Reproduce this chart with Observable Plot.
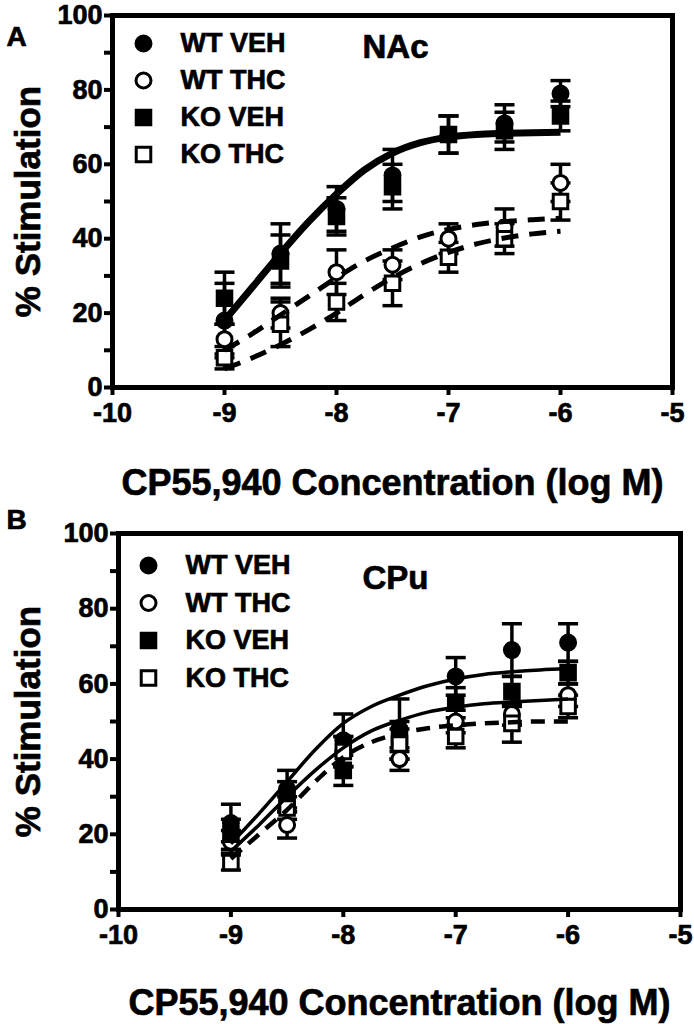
<!DOCTYPE html>
<html><head><meta charset="utf-8">
<script src="https://cdn.jsdelivr.net/npm/d3@7"></script>
<script src="https://cdn.jsdelivr.net/npm/@observablehq/plot@0.6"></script>
<style>
body{margin:0;background:#fff;}
#chart{width:694px;}
#chart svg{display:block;}
#chart svg text{stroke:black;stroke-width:0.7px;font-weight:bold;}
</style></head><body><div id="chart"></div>
<script>
// ---------- data ----------
const conc = [-9, -8.5, -8, -7.5, -7, -6.5, -6];
const fitConc = [-9, -8.75, -8.5, -8.25, -8, -7.75, -7.5, -7.25, -7, -6.75, -6.5, -6.25, -6];
const groups = ["WT VEH", "WT THC", "KO VEH", "KO THC"];
const xTicks = [-10, -9, -8, -7, -6, -5];
const yTicks = [0, 20, 40, 60, 80, 100];
const yMinorTicks = [10, 30, 50, 70, 90];
const xLabel = "CP55,940 Concentration (log M)";
const yLabel = "% Stimulation";

// Panel A (NAc)
const nacWtVeh = [18, 36, 48, 57, 68, 71, 79];
const nacWtVehSem = [10, 8, 6, 7, 5, 5, 3.5];
const nacWtThc = [13, 20, 31, 33, 40, 43, 55];
const nacWtThcSem = [4, 4, 6, 4, 4, 5, 5];
const nacKoVeh = [24, 34, 46, 54, 68, 69, 73];
const nacKoVehSem = [7, 7, 5, 6, 5, 5, 4];
const nacKoThc = [8, 17, 23, 28, 35, 40, 50];
const nacKoThcSem = [3, 6, 5, 6, 4, 4, 5];
const nacFitVeh = [18, 27, 36, 44.5, 52, 58.5, 63, 65.8, 67.3, 68, 68.3, 68.5, 68.6];
const nacFitWtThc = [10, 14.5, 19.5, 24.5, 29.5, 34, 37.5, 40.5, 42.5, 43.8, 44.6, 45.1, 45.5];
const nacFitKoThc = [5, 8, 11.5, 15.5, 20, 25, 29.5, 33.3, 36.3, 38.6, 40.2, 41.3, 42];

// Panel B (CPu)
const cpuWtVeh = [23, 32, 45, 48, 62, 69, 71];
const cpuWtVehSem = [5, 5, 7, 8, 5, 7, 5];
const cpuWtThc = [18, 22.5, 42, 40, 50, 52, 57];
const cpuWtThcSem = [3, 3.5, 4, 3, 3, 3, 3];
const cpuKoVeh = [20, 30, 37, 46, 55, 58, 63];
const cpuKoVehSem = [4, 4, 4, 4, 4, 4, 3];
const cpuKoThc = [12.5, 27, 42, 44, 46, 49.5, 54];
const cpuKoThcSem = [2, 3, 4, 4, 3, 5, 3];
const cpuFitWtVeh = [17.5, 25.5, 34, 42.5, 49.5, 54, 57, 59.5, 61.3, 62.5, 63.2, 63.7, 64];
const cpuFitMid = [15.5, 22.5, 30, 37, 43, 47.5, 50.3, 52.5, 53.8, 54.7, 55.2, 55.6, 56];
const cpuFitKoThc = [13.5, 20, 26.5, 34, 40.5, 44.5, 46.8, 48.2, 49, 49.5, 49.8, 50, 50];

// ---------- helpers ----------
const FONT = "'Liberation Sans', Arial, Helvetica, sans-serif";
const NARROW = "'Liberation Sans Narrow', 'Arial Narrow', 'Liberation Sans', Arial, sans-serif";
const symStyle = {
  "WT VEH": {symbol: "circle", fill: "black"},
  "WT THC": {symbol: "circle", fill: "white"},
  "KO VEH": {symbol: "square", fill: "black"},
  "KO THC": {symbol: "square", fill: "white"}
};
const capSymbol = {draw(ctx, size) { const w = Math.sqrt(size / Math.PI); ctx.moveTo(-w, 0); ctx.lineTo(w, 0); }};

function rowsOf(vals, sems) {
  return conc.map((x, i) => ({x, v: vals[i], lo: vals[i] - sems[i], hi: vals[i] + sems[i]}));
}
function fitRows(vals) { return fitConc.map((x, i) => ({x, v: vals[i]})); }

function panel(cfg) {
  const marks = [];
  for (const g of groups) {
    const r = cfg.series[g];
    marks.push(Plot.ruleX(r, {x: "x", y1: "lo", y2: "hi", stroke: "black", strokeWidth: 3.5}));
    marks.push(Plot.dot(r, {x: "x", y: "hi", symbol: capSymbol, r: 10, fill: "none", stroke: "black", strokeWidth: 3.5}));
    marks.push(Plot.dot(r, {x: "x", y: "lo", symbol: capSymbol, r: 10, fill: "none", stroke: "black", strokeWidth: 3.5}));
  }
  for (const g of groups) {
    const s = symStyle[g];
    marks.push(Plot.dot(cfg.series[g], {x: "x", y: "v", symbol: s.symbol, r: s.symbol === "circle" ? 7.5 : 8.2,
      fill: s.fill, stroke: "black", strokeWidth: 3}));
  }
  for (const f of cfg.fits) {
    marks.push(Plot.line(fitRows(f.vals), {x: "x", y: "v", curve: "monotone-x", stroke: "black",
      strokeWidth: f.width, strokeDasharray: f.dash || null, strokeLinecap: "butt"}));
  }
  groups.forEach((g, i) => {
    const s = symStyle[g];
    marks.push(Plot.dot([g], {frameAnchor: "top-left", dx: cfg.legDx, dy: cfg.legDy + i * cfg.legStep,
      symbol: s.symbol, r: s.symbol === "circle" ? 7.5 : 8.2, fill: s.fill, stroke: "black", strokeWidth: 3}));
    marks.push(Plot.text([g], {text: d => d, frameAnchor: "top-left", dx: cfg.legDx + 37, dy: cfg.legDy + i * cfg.legStep,
      textAnchor: "start", lineAnchor: "middle", fontSize: 27, fontWeight: "bold", fill: "black"}));
  });
  marks.push(Plot.text([cfg.region], {text: d => d, frameAnchor: "top-left", dx: cfg.regDx, dy: cfg.regDy,
    textAnchor: "start", lineAnchor: "middle", fontSize: 33, fontWeight: "bold", fill: "black"}));
  marks.push(Plot.axisY(yMinorTicks, {tickSize: 8, tickFormat: () => "", strokeWidth: 4, label: null}));
  marks.push(Plot.axisY(yTicks, {tickSize: 8, tickPadding: 2, tickFormat: d => String(d), strokeWidth: 4,
    fontSize: 27, fontFamily: NARROW, fontWeight: "bold", label: null}));
  marks.push(Plot.axisX(xTicks, {tickSize: 8, tickPadding: 7, tickFormat: d => String(d), strokeWidth: 4,
    fontSize: 27, fontFamily: NARROW, fontWeight: "bold", label: null}));
  marks.push(Plot.frame({stroke: "black", strokeWidth: 5}));
  marks.push(Plot.text([yLabel], {text: d => d, frameAnchor: "left", dx: cfg.yLabDx, rotate: -90,
    fontSize: 35, fontWeight: "bold", fill: "black", textAnchor: "middle", lineAnchor: "middle"}));
  marks.push(Plot.text([xLabel], {text: d => d, frameAnchor: "bottom", dy: cfg.xLabDy, dx: cfg.xLabDx,
    fontSize: 36, fontWeight: "bold", fill: "black", textAnchor: "middle", lineAnchor: "bottom"}));
  marks.push(Plot.text([cfg.letter], {text: d => d, frameAnchor: "top-left", dx: cfg.letDx, dy: cfg.letDy,
    fontSize: 28, fontWeight: "bold", fill: "black", textAnchor: "start", lineAnchor: "middle"}));

  return Plot.plot({
    width: 694, height: cfg.height,
    marginLeft: cfg.ml, marginRight: cfg.mr, marginTop: cfg.mt, marginBottom: cfg.mb,
    x: {domain: [-10, -5]},
    y: {domain: [0, 100]},
    style: {fontFamily: FONT, fontSize: "25px", fontWeight: "bold", color: "black", background: "white", overflow: "visible"},
    marks
  });
}

const chart = document.getElementById("chart");
chart.append(panel({
  letter: "A", region: "NAc", height: 505, ml: 112, mr: 22, mt: 15, mb: 118,
  series: {
    "WT VEH": rowsOf(nacWtVeh, nacWtVehSem), "WT THC": rowsOf(nacWtThc, nacWtThcSem),
    "KO VEH": rowsOf(nacKoVeh, nacKoVehSem), "KO THC": rowsOf(nacKoThc, nacKoThcSem)
  },
  fits: [
    {vals: nacFitVeh, width: 7},
    {vals: nacFitWtThc, width: 5, dash: "17,11"},
    {vals: nacFitKoThc, width: 5, dash: "17,11"}
  ],
  legDx: 31, legDy: 28, legStep: 37, regDx: 250, regDy: 32,
  yLabDx: -84, xLabDy: 107, xLabDx: 0, letDx: -106, letDy: 22
}));
chart.append(panel({
  letter: "B", region: "CPu", height: 519, ml: 118, mr: 14, mt: 28, mb: 115,
  series: {
    "WT VEH": rowsOf(cpuWtVeh, cpuWtVehSem), "WT THC": rowsOf(cpuWtThc, cpuWtThcSem),
    "KO VEH": rowsOf(cpuKoVeh, cpuKoVehSem), "KO THC": rowsOf(cpuKoThc, cpuKoThcSem)
  },
  fits: [
    {vals: cpuFitWtVeh, width: 3.5},
    {vals: cpuFitMid, width: 3.5},
    {vals: cpuFitKoThc, width: 4.5, dash: "14,9"}
  ],
  legDx: 30, legDy: 32, legStep: 37.5, regDx: 244, regDy: 45,
  yLabDx: -90, xLabDy: 105, xLabDx: 0, letDx: -112, letDy: -13
}));
</script></body></html>
